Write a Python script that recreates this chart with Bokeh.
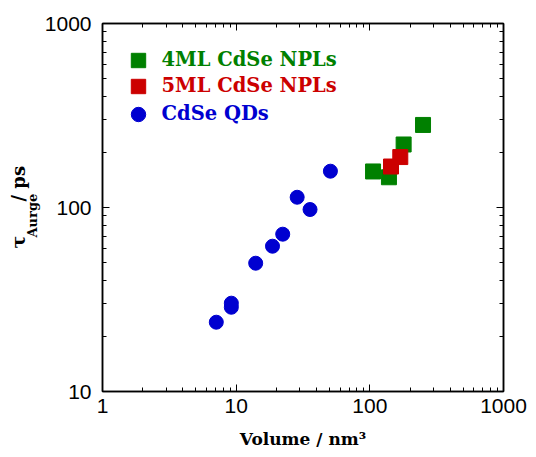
import math
from bokeh.plotting import figure
from bokeh.layouts import row
from bokeh.models import (LogAxis, FixedTicker, Legend, LegendItem, Label,
                          PrintfTickFormatter)
from bokeh.embed import file_html
from bokeh.resources import INLINE

# ---- data ----
qd_volume = [7.1, 9.2, 9.2, 14.0, 18.7, 22.3, 28.6, 35.7, 50.7]
qd_tau = [23.8, 28.7, 30.2, 49.8, 61.6, 71.6, 113.7, 97.5, 157.5]
npl4_volume = [105.7, 139, 179, 250]
npl4_tau = [157, 146, 220, 281]
npl5_volume = [144, 169]
npl5_tau = [167, 188]

x_major = [1, 10, 100, 1000]
y_major = [10, 100, 1000]
x_minor = [m * d for d in (1, 10, 100) for m in range(2, 10)]
y_minor = [m * d for d in (10, 100) for m in range(2, 10)]

series_labels = ["4ML CdSe NPLs", "5ML CdSe NPLs", "CdSe QDs"]
GREEN = "#008000"
RED = "#cc0000"
BLUE = "#0000d0"

SERIF = "DejaVu Serif"
SANS = "Liberation Sans"

LEFT_W = 41

p = figure(width=536 - LEFT_W, height=457, x_axis_type="log",
           y_axis_type="log", x_range=(1, 1000), y_range=(10, 1000),
           output_backend="svg", toolbar_location=None,
           min_border_left=102 - LEFT_W, min_border_right=33,
           min_border_top=23, min_border_bottom=66)
p.grid.visible = False
p.outline_line_color = "black"
p.outline_line_width = 1.5
p.background_fill_color = "white"
p.border_fill_color = "white"

xa = p.below[0]
ya = p.left[0]


def style_axis(ax, ticks, minor, labels=True):
    ax.ticker = FixedTicker(ticks=ticks, minor_ticks=minor)
    ax.axis_line_color = "black"
    ax.axis_line_width = 1.5
    ax.major_tick_in = 7
    ax.major_tick_out = 0
    ax.minor_tick_in = 4
    ax.minor_tick_out = 0
    ax.major_tick_line_color = "black"
    ax.minor_tick_line_color = "black"
    ax.major_tick_line_width = 1
    ax.minor_tick_line_width = 1
    ax.formatter = PrintfTickFormatter(format="%d")
    if labels:
        ax.major_label_text_font = SANS
        ax.major_label_text_font_size = "21px"
        ax.major_label_text_color = "black"
    else:
        ax.major_label_text_font_size = "1px"
        ax.major_label_text_color = None
        ax.major_label_standoff = 0


style_axis(xa, x_major, x_minor)
style_axis(ya, y_major, y_minor)
xa.major_label_standoff = 7
ya.major_label_standoff = 11

xa.axis_label = "Volume / nm\u00b3"
xa.axis_label_text_font = SERIF
xa.axis_label_text_font_style = "bold"
xa.axis_label_text_font_size = "17px"
xa.axis_label_text_color = "black"
xa.axis_label_standoff = 13

top_axis = LogAxis()
style_axis(top_axis, x_major, x_minor, labels=False)
p.add_layout(top_axis, "above")
right_axis = LogAxis()
style_axis(right_axis, y_major, y_minor, labels=False)
p.add_layout(right_axis, "right")

# ---- data glyphs ----
r_qd = p.scatter(qd_volume, qd_tau, marker="circle", size=14,
                 fill_color=BLUE, line_color=BLUE)
r4 = p.scatter(npl4_volume, npl4_tau, marker="square", size=15,
               fill_color=GREEN, line_color=GREEN)
r5 = p.scatter(npl5_volume, npl5_tau, marker="square", size=15,
               fill_color=RED, line_color=RED)

# ---- legends (one per series, to colour each label) ----
for rend, lab, col, loc in [(r4, series_labels[0], GREEN, (17.5, 313.5)),
                            (r5, series_labels[1], RED, (17.5, 287.5)),
                            (r_qd, series_labels[2], BLUE, (17.5, 259.5))]:
    leg = Legend(items=[LegendItem(label=lab, renderers=[rend])],
                 location=loc, glyph_width=36, glyph_height=36,
                 label_height=36, label_standoff=6, padding=0, margin=0,
                 spacing=0, border_line_color=None,
                 background_fill_alpha=0, label_text_color=col,
                 label_text_font=SERIF, label_text_font_style="bold",
                 label_text_font_size="19.5px")
    p.add_layout(leg)

# ---- y axis label (tau with subscript) in a narrow side panel ----
side = figure(width=LEFT_W, height=457, x_range=(0, 1), y_range=(0, 1),
              output_backend="svg", toolbar_location=None, min_border=0,
              x_axis_location=None, y_axis_location=None)
side.outline_line_color = None
side.grid.visible = False
side.background_fill_color = "white"
side.border_fill_color = "white"

for txt, x, y, size in [("\u03c4", 17.5, 143, "19px"),
                        ("Aurge", 32, 154, "13px"),
                        ("/ ps", 18, 190, "18px")]:
    side.add_layout(Label(x=x, y=y, x_units="screen", y_units="screen",
                          text=txt, angle=math.pi / 2,
                          text_font=SERIF, text_font_style="bold",
                          text_font_size=size, text_color="black",
                          text_align="left", text_baseline="alphabetic"))

layout = row(side, p)
open("out.html", "w").write(file_html(layout, INLINE))
